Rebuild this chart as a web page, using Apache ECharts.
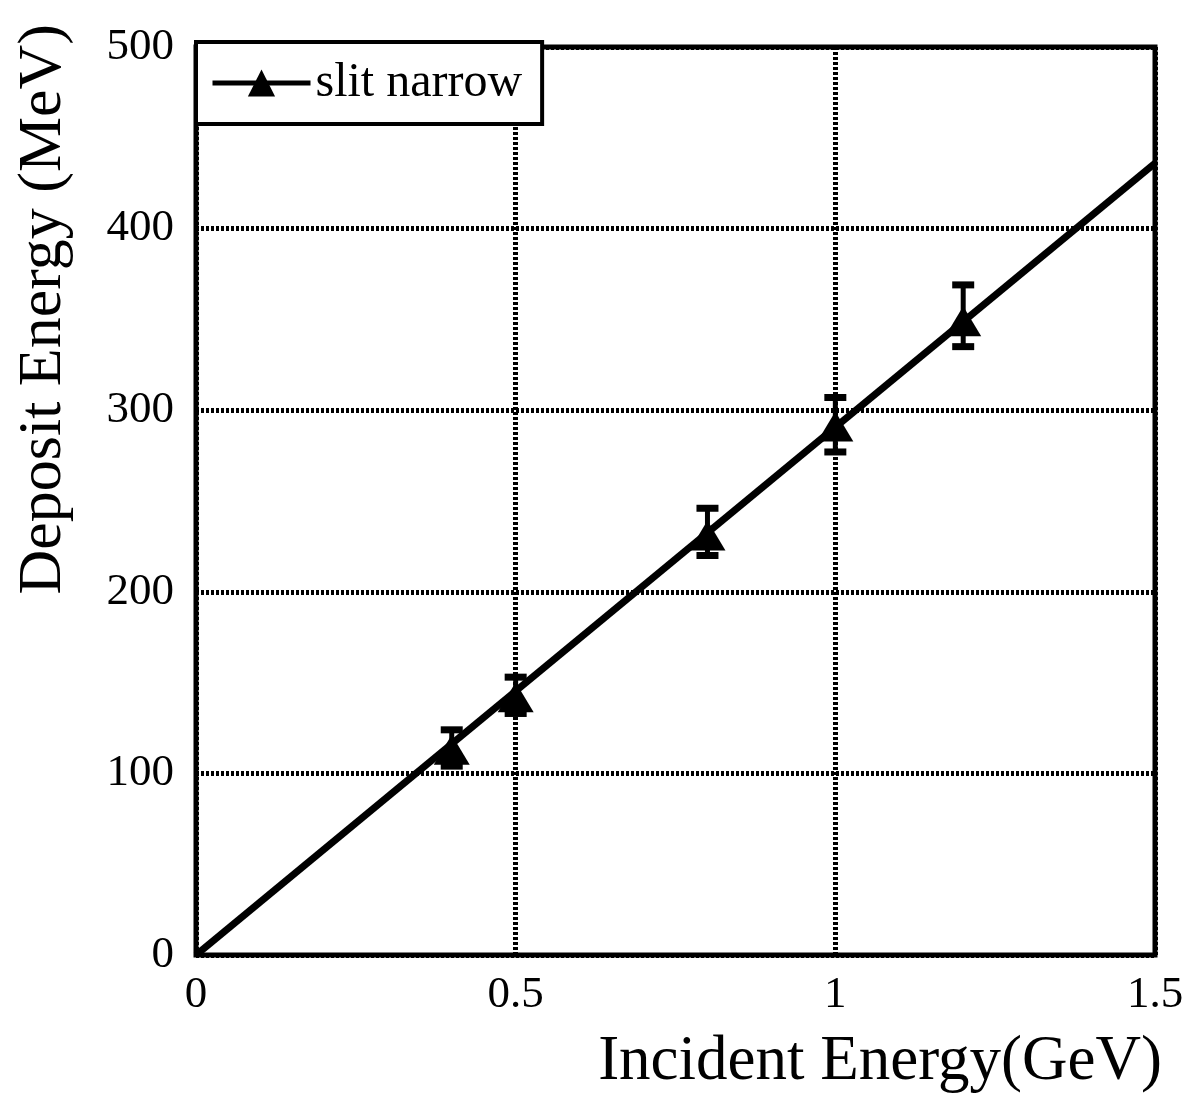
<!DOCTYPE html>
<html>
<head>
<meta charset="utf-8">
<script src="https://cdn.jsdelivr.net/npm/echarts@6/dist/echarts.min.js"></script>
<style>
  html, body { margin: 0; padding: 0; background: #fff; }
  #chart { width: 1187px; height: 1097px; }
</style>
</head>
<body>
<div id="chart"></div>
<script>
const energies = [0.4, 0.5, 0.8, 1.0, 1.2]
const deposit = [113, 142, 231, 291, 349]
const errLow = [104, 133, 220, 277, 335]
const errHigh = [124, 153, 246, 307, 369]
// straight-line fit endpoints
const fitX = [0, 1.5]
const fitY = [0, 436]

const serif = '"Liberation Serif", "DejaVu Serif", serif'
const ink = '#000'

const chart = echarts.init(document.getElementById('chart'))

const pts = energies.map((e, i) => [e, deposit[i]])
const bars = energies.map((e, i) => [e, errLow[i], errHigh[i]])
const fit = fitX.map((x, i) => [x, fitY[i]])

const renderErr = (params, api) => {
  const lo = api.coord([api.value(0), api.value(1)])
  const hi = api.coord([api.value(0), api.value(2)])
  const half = 11
  return {
    type: 'group',
    children: [
      { type: 'line', shape: { x1: lo[0], y1: lo[1], x2: hi[0], y2: hi[1] }, style: { stroke: ink, lineWidth: 5 } },
      { type: 'line', shape: { x1: lo[0] - half, y1: lo[1], x2: lo[0] + half, y2: lo[1] }, style: { stroke: ink, lineWidth: 7 } },
      { type: 'line', shape: { x1: hi[0] - half, y1: hi[1], x2: hi[0] + half, y2: hi[1] }, style: { stroke: ink, lineWidth: 7 } },
    ],
  }
}

chart.setOption({
  backgroundColor: '#fff',
  animation: false,
  grid: { left: 196, right: 32, top: 47, bottom: 142, show: true, borderColor: ink, borderWidth: 5, backgroundColor: 'transparent' },
  legend: {
    left: 196, top: 42,
    backgroundColor: '#fff',
    borderColor: ink, borderWidth: 4,
    padding: [17, 20, 17, 14],
    itemWidth: 98, itemHeight: 34,
    lineStyle: { width: 5, color: ink, opacity: 1 },
    textStyle: { fontFamily: serif, fontSize: 48, color: ink },
    data: ['slit narrow'],
  },
  xAxis: {
    type: 'value', min: 0, max: 1.5, interval: 0.5,
    axisLine: { show: false }, axisTick: { show: false },
    axisLabel: { margin: 18, fontFamily: serif, fontSize: 45, color: ink, formatter: v => String(v) },
    splitLine: { show: true, lineStyle: { color: ink, width: 5, type: [3, 2] } },
  },
  yAxis: {
    type: 'value', min: 0, max: 500, interval: 100,
    axisLine: { show: false }, axisTick: { show: false },
    axisLabel: { margin: 22, fontFamily: serif, fontSize: 45, color: ink },
    splitLine: { show: true, lineStyle: { color: ink, width: 5, type: [3, 2] } },
  },
  graphic: [
    { type: 'text', x: 1162, y: 1094, style: { text: 'Incident Energy(GeV)', font: '63px ' + serif, fill: ink, align: 'right', verticalAlign: 'bottom' } },
    { type: 'text', x: 44, y: 24, rotation: Math.PI / 2, style: { text: 'Deposit Energy (MeV)', font: '62px ' + serif, fill: ink, align: 'right', verticalAlign: 'middle' } },
  ],
  series: [
    {
      name: 'fit', type: 'line', data: fit, symbol: 'none',
      lineStyle: { color: ink, width: 7 }, z: 3,
    },
    {
      name: 'errors', type: 'custom', data: bars, renderItem: renderErr, z: 4,
    },
    {
      name: 'slit narrow', type: 'line', data: pts,
      symbol: 'triangle', symbolSize: [36, 30],
      itemStyle: { color: ink },
      lineStyle: { width: 0, opacity: 0 },
      z: 5,
    },
  ],
})
</script>
</body>
</html>
